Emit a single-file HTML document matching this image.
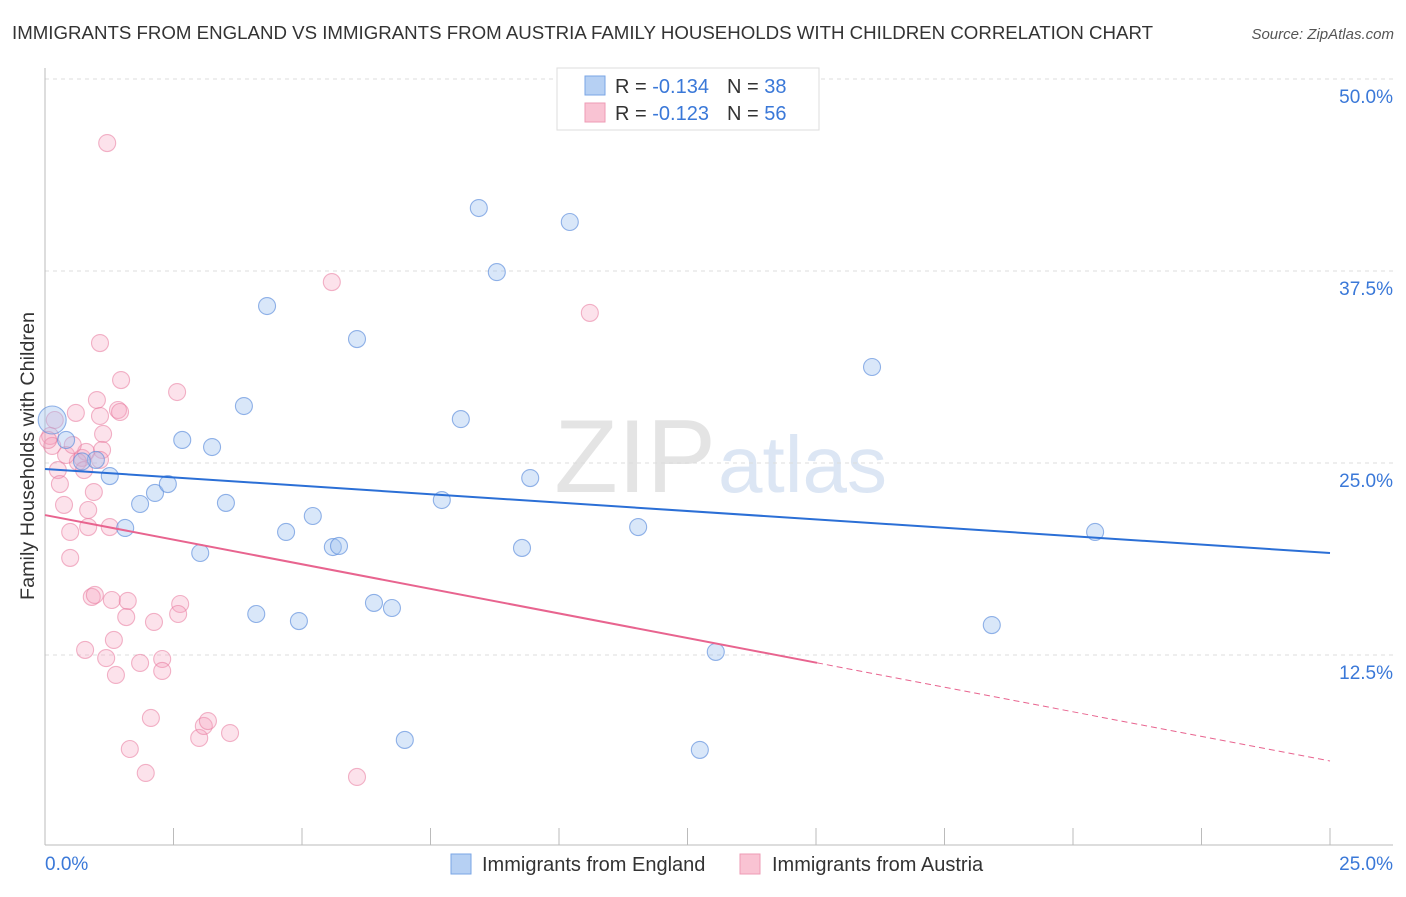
<!DOCTYPE html>
<html><head><meta charset="utf-8"><style>
body{margin:0;background:#fff;font-family:"Liberation Sans",sans-serif;}
svg text{font-family:"Liberation Sans",sans-serif;}
</style></head><body>
<svg id="chart" width="1406" height="892" viewBox="0 0 1406 892" xmlns="http://www.w3.org/2000/svg">
<text x="12" y="39" font-size="18" fill="#333" textLength="1141" lengthAdjust="spacingAndGlyphs">IMMIGRANTS FROM ENGLAND VS IMMIGRANTS FROM AUSTRIA FAMILY HOUSEHOLDS WITH CHILDREN CORRELATION CHART</text>
<text x="1394" y="39" font-size="15" fill="#555" text-anchor="end" font-style="italic">Source: ZipAtlas.com</text>
<text x="716" y="492" font-size="104" fill="#e4e4e4" text-anchor="end" font-family="Liberation Serif">ZIP</text>
<text x="718" y="492" font-size="80" fill="#dce6f4">atlas</text>
<g id="grid"></g>
<g id="axes"></g>
<g id="marks"></g>
<text transform="translate(34,456) rotate(-90)" font-size="19" fill="#333" text-anchor="middle" textLength="288" lengthAdjust="spacingAndGlyphs">Family Households with Children</text>
<g>
<rect x="557" y="68" width="262" height="62" fill="#fff" stroke="#ddd"/>
<rect x="585" y="76" width="20" height="19" fill="#b6d0f3" stroke="#7aa6e6"/>
<rect x="585" y="103" width="20" height="19" fill="#f9c3d3" stroke="#ee9bb5"/>
<text x="615" y="93" font-size="20" fill="#333">R = <tspan fill="#3a78d8">-0.134</tspan><tspan dx="18">N = </tspan><tspan fill="#3a78d8">38</tspan></text>
<text x="615" y="120" font-size="20" fill="#333">R = <tspan fill="#3a78d8">-0.123</tspan><tspan dx="18">N = </tspan><tspan fill="#3a78d8">56</tspan></text>
</g>
<g>
<rect x="451" y="854" width="20" height="20" fill="#b6d0f3" stroke="#7aa6e6"/>
<text x="482" y="871" font-size="20" fill="#333">Immigrants from England</text>
<rect x="740" y="854" width="20" height="20" fill="#f9c3d3" stroke="#ee9bb5"/>
<text x="772" y="871" font-size="20" fill="#333">Immigrants from Austria</text>
</g>
</svg>
<script>
const xTicks=[0,2.5,5,7.5,10,12.5,15,17.5,20,22.5,25];
const yTicks=[12.5,25,37.5,50];
const yTickLabels=["12.5%","25.0%","37.5%","50.0%"];
const xEndLabels=["0.0%","25.0%"];
const englandX=[0.14,0.41,0.99,0.72,1.26,1.85,2.14,2.39,1.56,2.67,3.25,3.52,3.87,3.02,4.32,4.11,4.69,4.94,5.21,5.60,5.72,6.07,6.40,6.75,7.00,7.72,8.09,8.44,8.79,9.28,9.44,10.21,11.54,12.74,13.05,16.09,18.42,20.43];
const englandY=[27.8,26.5,25.2,25.1,24.15,22.33,23.05,23.63,20.77,26.5,26.04,22.4,28.71,19.14,35.22,15.17,20.51,14.71,21.55,19.53,19.6,33.07,15.89,15.56,6.97,22.59,27.86,41.6,37.43,19.47,24.02,40.69,20.83,6.32,12.7,31.25,14.45,20.51];
const austriaX=[1.21,0.19,0.10,0.14,0.06,0.25,0.29,0.60,0.37,0.49,0.49,0.72,0.80,0.84,0.84,0.95,1.01,1.07,1.07,1.13,1.11,1.26,1.42,1.46,1.48,2.57,5.58,10.60,0.91,0.97,1.30,1.61,1.58,1.34,1.19,1.38,0.78,1.85,2.12,2.63,2.59,2.28,2.28,2.06,1.65,1.96,3.00,3.09,3.17,3.60,6.07,0.64,0.41,1.07,0.54,0.76];
const austriaY=[45.83,27.8,26.76,26.11,26.5,24.54,23.63,28.26,22.27,20.51,18.82,25.33,25.72,21.94,20.83,23.11,29.1,28.06,32.81,26.89,25.85,20.83,28.45,28.32,30.4,29.62,36.78,34.77,16.28,16.41,16.08,16.02,14.97,13.48,12.3,11.2,12.83,11.98,14.65,15.82,15.17,12.24,11.46,8.4,6.38,4.82,7.1,7.88,8.2,7.42,4.56,25.07,25.52,25.2,26.17,24.54];
const englandTrend=[24.61,19.14];
const austriaTrend=[21.61,5.6];
const austriaSolidEnd=15.02;

const NS="http://www.w3.org/2000/svg";
const X0=45,X1=1330,Y0=847,Y50=79;
function sx(v){return X0+(X1-X0)*v/25;}
function sy(v){return Y0-(Y0-Y50)*v/50;}
function mk(tag,attrs,parent){const e=document.createElementNS(NS,tag);for(const k in attrs)e.setAttribute(k,attrs[k]);parent.appendChild(e);return e;}
const grid=document.getElementById('grid'),axes=document.getElementById('axes'),marks=document.getElementById('marks');
yTicks.forEach((t,i)=>{
  const l=mk('line',{x1:X0,x2:1393,y1:sy(t),y2:sy(t),stroke:'#ddd','stroke-dasharray':'4,4'},grid);
  
  
  const tx=mk('text',{x:1393,y:sy(t)+24,'font-size':19,fill:'#3a78d8','text-anchor':'end'},axes);
  tx.textContent=yTickLabels[i];
  
  
});
const ax=mk('line',{x1:X0,x2:1393,y1:845,y2:845,stroke:'#bbb'},axes);


const ay=mk('line',{x1:X0,x2:X0,y1:68,y2:845,stroke:'#bbb'},axes);


xTicks.forEach(t=>{
  const l=mk('line',{x1:sx(t),x2:sx(t),y1:828,y2:845,stroke:'#bbb'},axes);
  
  
});
const xl0=mk('text',{x:45,y:870,'font-size':19,fill:'#3a78d8'},axes);xl0.textContent=xEndLabels[0];


const xl1=mk('text',{x:1393,y:870,'font-size':19,fill:'#3a78d8','text-anchor':'end'},axes);xl1.textContent=xEndLabels[1];


austriaX.forEach((x,i)=>{
  const c=mk('circle',{cx:sx(x),cy:sy(austriaY[i]),r:8.5,fill:'rgba(245,160,188,0.3)',stroke:'rgba(232,120,156,0.55)','stroke-width':1.1},marks);
  
  
});
englandX.forEach((x,i)=>{
  const c=mk('circle',{cx:sx(x),cy:sy(englandY[i]),r:i===0?14:8.5,fill:'rgba(160,195,240,0.4)',stroke:'rgba(90,140,220,0.65)','stroke-width':1.1},marks);
  
  
});
const bt=mk('line',{x1:sx(0),y1:sy(englandTrend[0]),x2:sx(25),y2:sy(englandTrend[1]),stroke:'#2b6fd6','stroke-width':2},marks);


const pyAt=v=>austriaTrend[0]+(austriaTrend[1]-austriaTrend[0])*v/25;
const pt=mk('line',{x1:sx(0),y1:sy(austriaTrend[0]),x2:sx(austriaSolidEnd),y2:sy(pyAt(austriaSolidEnd)),stroke:'#e8648f','stroke-width':2},marks);


const pd=mk('line',{x1:sx(austriaSolidEnd),y1:sy(pyAt(austriaSolidEnd)),x2:sx(25),y2:sy(austriaTrend[1]),stroke:'#e8648f','stroke-width':1,'stroke-dasharray':'6,4'},marks);


</script>
</body></html>
